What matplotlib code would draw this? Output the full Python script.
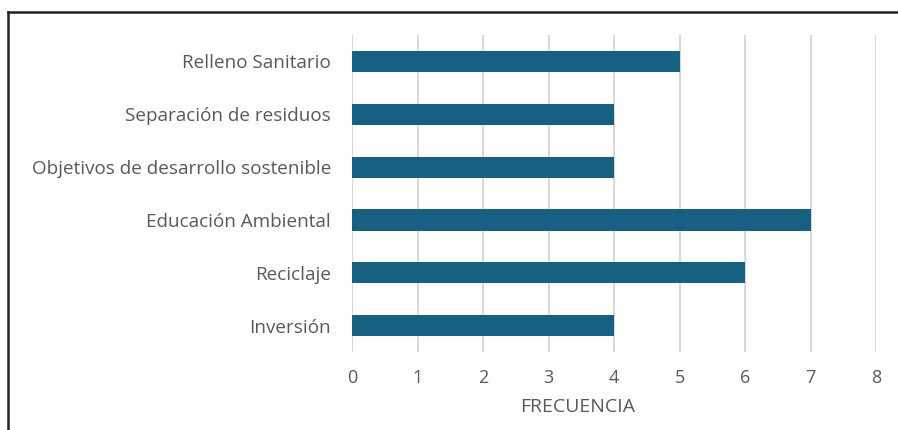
import matplotlib.pyplot as plt
from matplotlib.lines import Line2D

categorias = ["Relleno Sanitario", "Separación de residuos",
              "Objetivos de desarrollo sostenible", "Educación Ambiental",
              "Reciclaje", "Inversión"]
frecuencia = [5, 4, 4, 7, 6, 4]
xticks = [0, 1, 2, 3, 4, 5, 6, 7, 8]

plt.rcParams['font.family'] = ['Open Sans', 'DejaVu Sans']

fig = plt.figure(figsize=(8.98, 4.30), dpi=100)
ax = fig.add_axes([0.392, 0.181, 0.5835, 0.7375])

pos = list(range(len(categorias)))
ax.barh(pos, frecuencia, height=0.4, color="#166082", zorder=3)
ax.set_ylim(len(categorias) - 0.5, -0.5)
ax.set_xlim(0, 8)
ax.set_yticks(pos)
ax.set_yticklabels(categorias, fontsize=13.6, color="#595959")
ax.set_xticks(xticks)
ax.set_xticklabels([str(t) for t in xticks], fontsize=13, color="#595959")
ax.tick_params(axis='y', length=0, pad=15)
ax.tick_params(axis='x', length=0, pad=12)
ax.grid(axis='x', color="#d9d9d9", linewidth=1.5, zorder=0)
for s in ax.spines.values():
    s.set_visible(False)
ax.set_xlabel("FRECUENCIA", fontsize=14, color="#595959")
ax.xaxis.set_label_coords(0.43, -0.145)

# marco exterior (recortado)
fig.add_artist(Line2D([0.009, 1.0], [0.972, 0.972], color="#222222", linewidth=1.8, transform=fig.transFigure))
fig.add_artist(Line2D([0.009, 0.009], [0.0, 0.972], color="#222222", linewidth=1.8, transform=fig.transFigure))

fig.savefig("out.png", dpi=100)
